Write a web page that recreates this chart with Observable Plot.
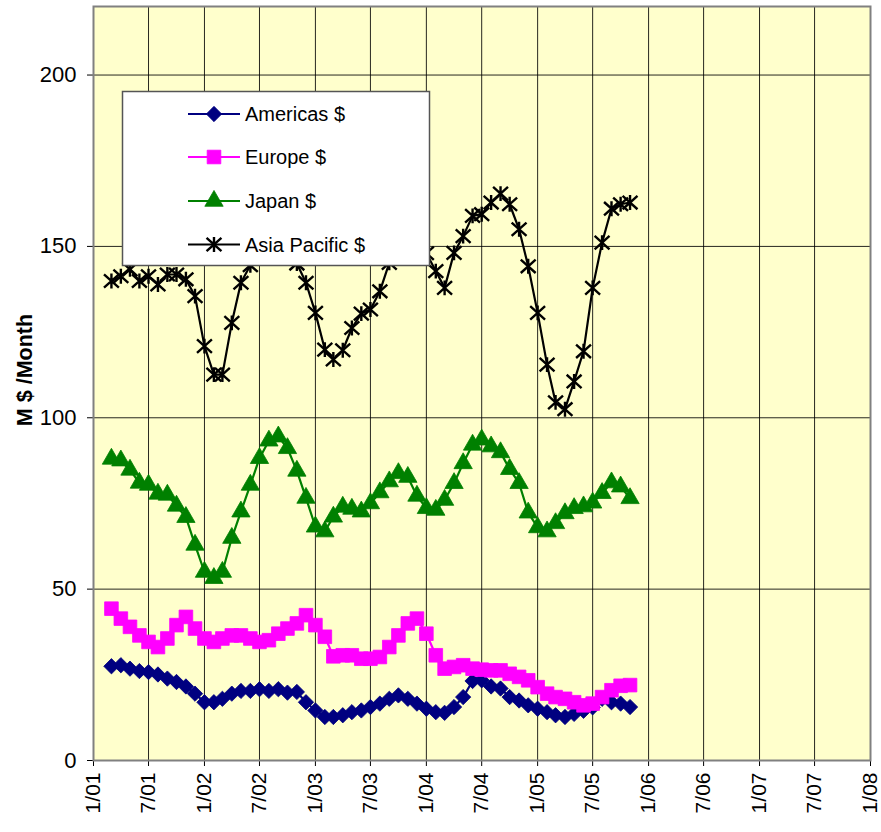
<!DOCTYPE html>
<html><head><meta charset="utf-8">
<script src="https://cdn.jsdelivr.net/npm/d3@7"></script>
<script src="https://cdn.jsdelivr.net/npm/@observablehq/plot@0.6"></script>
<style>
body{margin:0;background:#fff;}
#chart{position:relative;width:881px;height:832px;}
</style></head><body><div id="chart"></div>
<script>
// ---- data (monthly, first value = March 2001) ----
const firstMonth = [2001, 3];
const americas = [27.5, 27.8, 26.8, 26.1, 25.8, 25.1, 23.9, 22.9, 21.6, 19.5,
  17, 17, 18, 19.5, 20.3, 20.3, 20.8, 20.3, 20.8, 19.8,
  20, 17, 14.6, 12.7, 12.7, 13.2, 14.1, 14.6, 15.6, 16.6,
  18, 19, 18, 16.6, 15.1, 14.1, 13.9, 15.6, 18.5, 23.2,
  23.4, 21.6, 21, 18.5, 17.5, 16.1, 15.1, 14.1, 13.2, 12.7,
  13.6, 14.5, 15.5, 18, 17, 16.6, 15.6];
const europe = [44.3, 41.4, 39, 36.5, 34.6, 33.1, 35.6, 39.5, 41.9, 38.5,
  35.6, 34.6, 35.6, 36.5, 36.5, 35.6, 34.6, 35.1, 37, 38.5,
  40, 42.4, 39.5, 36.1, 30.4, 30.7, 30.7, 29.7, 29.7, 30.2,
  33.1, 36.5, 40, 41.4, 37, 30.7, 26.8, 27.3, 27.8, 26.8,
  26.5, 26.3, 26.3, 25.3, 24.4, 23.4, 21.4, 19.5, 18.5, 18,
  17, 16.1, 16.6, 18.5, 20.5, 21.8, 22];
const japan = [88, 87.5, 84.8, 81, 80.4, 77.8, 77.5, 74.3, 71, 62.9,
  55, 53.2, 55, 64.9, 72.6, 80.4, 88.2, 93.3, 94.5, 91.1,
  84.5, 76.6, 68.2, 66.8, 71.1, 74, 73.4, 72.6, 75, 78.2,
  81.4, 83.8, 82.7, 77.2, 73.6, 73.1, 76, 80.9, 86.7, 92.1,
  93.6, 91.6, 89.9, 85, 80.9, 72.3, 68, 66.8, 69.2, 72.1,
  73.6, 74.1, 75.2, 78, 81.1, 79.9, 76.5];
const asiaPacific = [139.9, 141.3, 143.3, 139.9, 141.3, 138.9, 141.8, 141.8, 140.4, 135.5,
  120.9, 112.6, 112.6, 127.7, 139.4, 144.5, 147, 149, 150, 148,
  145, 139.4, 130.6, 119.9, 117, 119.7, 126.2, 130.4, 131.6, 136.9,
  145.2, 148, 150, 150, 148, 142.8, 137.9, 148.1, 153, 158.9,
  159.4, 162.8, 165.4, 162.3, 155, 144.2, 130.6, 115.5, 104.5, 102.5,
  110.6, 119.4, 137.9, 151.1, 161, 162.3, 162.8];
const seriesNames = ["Americas $", "Europe $", "Japan $", "Asia Pacific $"];
const seriesColors = ["#000080", "#FF00FF", "#008000", "#000000"];
const xTickLabels = ["1/01","7/01","1/02","7/02","1/03","7/03","1/04","7/04","1/05","7/05","1/06","7/06","1/07","7/07","1/08"];
const yTicks = [0, 50, 100, 150, 200];
const yMax = 220;
const yTitle = "M $ /Month";

// ---- helpers ----
const start = new Date(Date.UTC(firstMonth[0], firstMonth[1] - 1, 1));
function labelToDate(s) { const [m, y] = s.split("/").map(Number); return new Date(Date.UTC(2000 + y, m - 1, 1)); }
const tickDates = xTickLabels.map(labelToDate);
const tickLabelByTime = new Map(tickDates.map((d, i) => [+d, xTickLabels[i]]));

const excelStar = {
  draw(ctx, size) {
    const s = Math.sqrt(size) / 2;
    ctx.moveTo(-s, -s * 0.9); ctx.lineTo(s, s * 0.9);
    ctx.moveTo(-s, s * 0.9); ctx.lineTo(s, -s * 0.9);
    ctx.moveTo(0, -s); ctx.lineTo(0, s);
  }
};
const symbols = ["diamond2", "square", "triangle", excelStar];
const radii = [6.9, 7.7, 6.8, 8.4];
const allValues = [americas, europe, japan, asiaPacific];

const seriesMarks = [];
allValues.forEach((vals, k) => {
  const rows = vals.map((v, i) => ({date: d3.utcMonth.offset(start, i), value: v}));
  seriesMarks.push(Plot.line(rows, {x: "date", y: "value", stroke: seriesColors[k], strokeWidth: 2.2}));
  if (k === 3) {
    seriesMarks.push(Plot.dot(rows, {x: "date", y: "value", symbol: excelStar, r: radii[k], fill: "none", stroke: seriesColors[k], strokeWidth: 2.4}));
  } else {
    seriesMarks.push(Plot.dot(rows, {x: "date", y: "value", symbol: symbols[k], r: radii[k], fill: seriesColors[k], stroke: seriesColors[k], strokeWidth: 0.8}));
  }
});

const FONT = "'Liberation Sans', Arial, sans-serif";
const plot = Plot.plot({
  width: 881, height: 832,
  marginLeft: 93, marginRight: 11, marginTop: 6, marginBottom: 72,
  style: {fontFamily: FONT, fontSize: "22px", color: "#000", background: "#fff", overflow: "visible"},
  x: {type: "utc", domain: [tickDates[0], tickDates[tickDates.length - 1]]},
  y: {domain: [0, yMax]},
  marks: [
    Plot.frame({fill: "#FFFFCC"}),
    Plot.ruleY(yTicks.filter(d => d > 0), {stroke: "#000", strokeWidth: 1, strokeOpacity: 0.85}),
    Plot.ruleX(tickDates.slice(1, -1), {stroke: "#000", strokeWidth: 1, strokeOpacity: 0.85}),
    Plot.axisY({ticks: yTicks, tickSize: 6, tickPadding: 11, label: null, fontSize: 22, tickFormat: d => String(d)}),
    Plot.axisX({ticks: tickDates, tickFormat: d => tickLabelByTime.get(+d), tickRotate: -90, tickSize: 6, tickPadding: 6, label: null, fontSize: 21}),
    ...seriesMarks,
    Plot.frame({stroke: "#808080", strokeWidth: 2})
  ]
});
document.getElementById("chart").appendChild(plot);

// y-axis title
const svg = d3.select(plot);
svg.append("text")
  .attr("transform", "translate(32,370) rotate(-90)")
  .attr("text-anchor", "middle")
  .attr("font-family", FONT).attr("font-weight", "bold").attr("font-size", 21.5)
  .attr("fill", "#000")
  .text(yTitle);

// legend (on top, like the original)
const lg = svg.append("g").attr("text-anchor", "start");
lg.append("rect").attr("x", 122.5).attr("y", 91.5).attr("width", 307).attr("height", 174)
  .attr("fill", "#fff").attr("stroke", "#555").attr("stroke-width", 1.5);
const rowY = [114, 157, 201, 244.5];
seriesNames.forEach((name, k) => {
  const y = rowY[k];
  lg.append("line").attr("x1", 188).attr("x2", 240).attr("y1", y).attr("y2", y)
    .attr("stroke", seriesColors[k]).attr("stroke-width", 2.2);
  const sym = k === 3 ? excelStar : {diamond2: d3.symbolDiamond2, square: d3.symbolSquare, triangle: d3.symbolTriangle}[symbols[k]];
  const path = d3.symbol(sym, Math.PI * radii[k] * radii[k])();
  lg.append("path").attr("d", path).attr("transform", `translate(214,${y})`)
    .attr("fill", k === 3 ? "none" : seriesColors[k])
    .attr("stroke", seriesColors[k]).attr("stroke-width", k === 3 ? 2.4 : 0.8);
  lg.append("text").attr("x", 245).attr("y", y + 7).attr("text-anchor", "start")
    .attr("font-family", FONT).attr("font-size", 20).attr("fill", "#000").text(name);
});
</script>
</body></html>
